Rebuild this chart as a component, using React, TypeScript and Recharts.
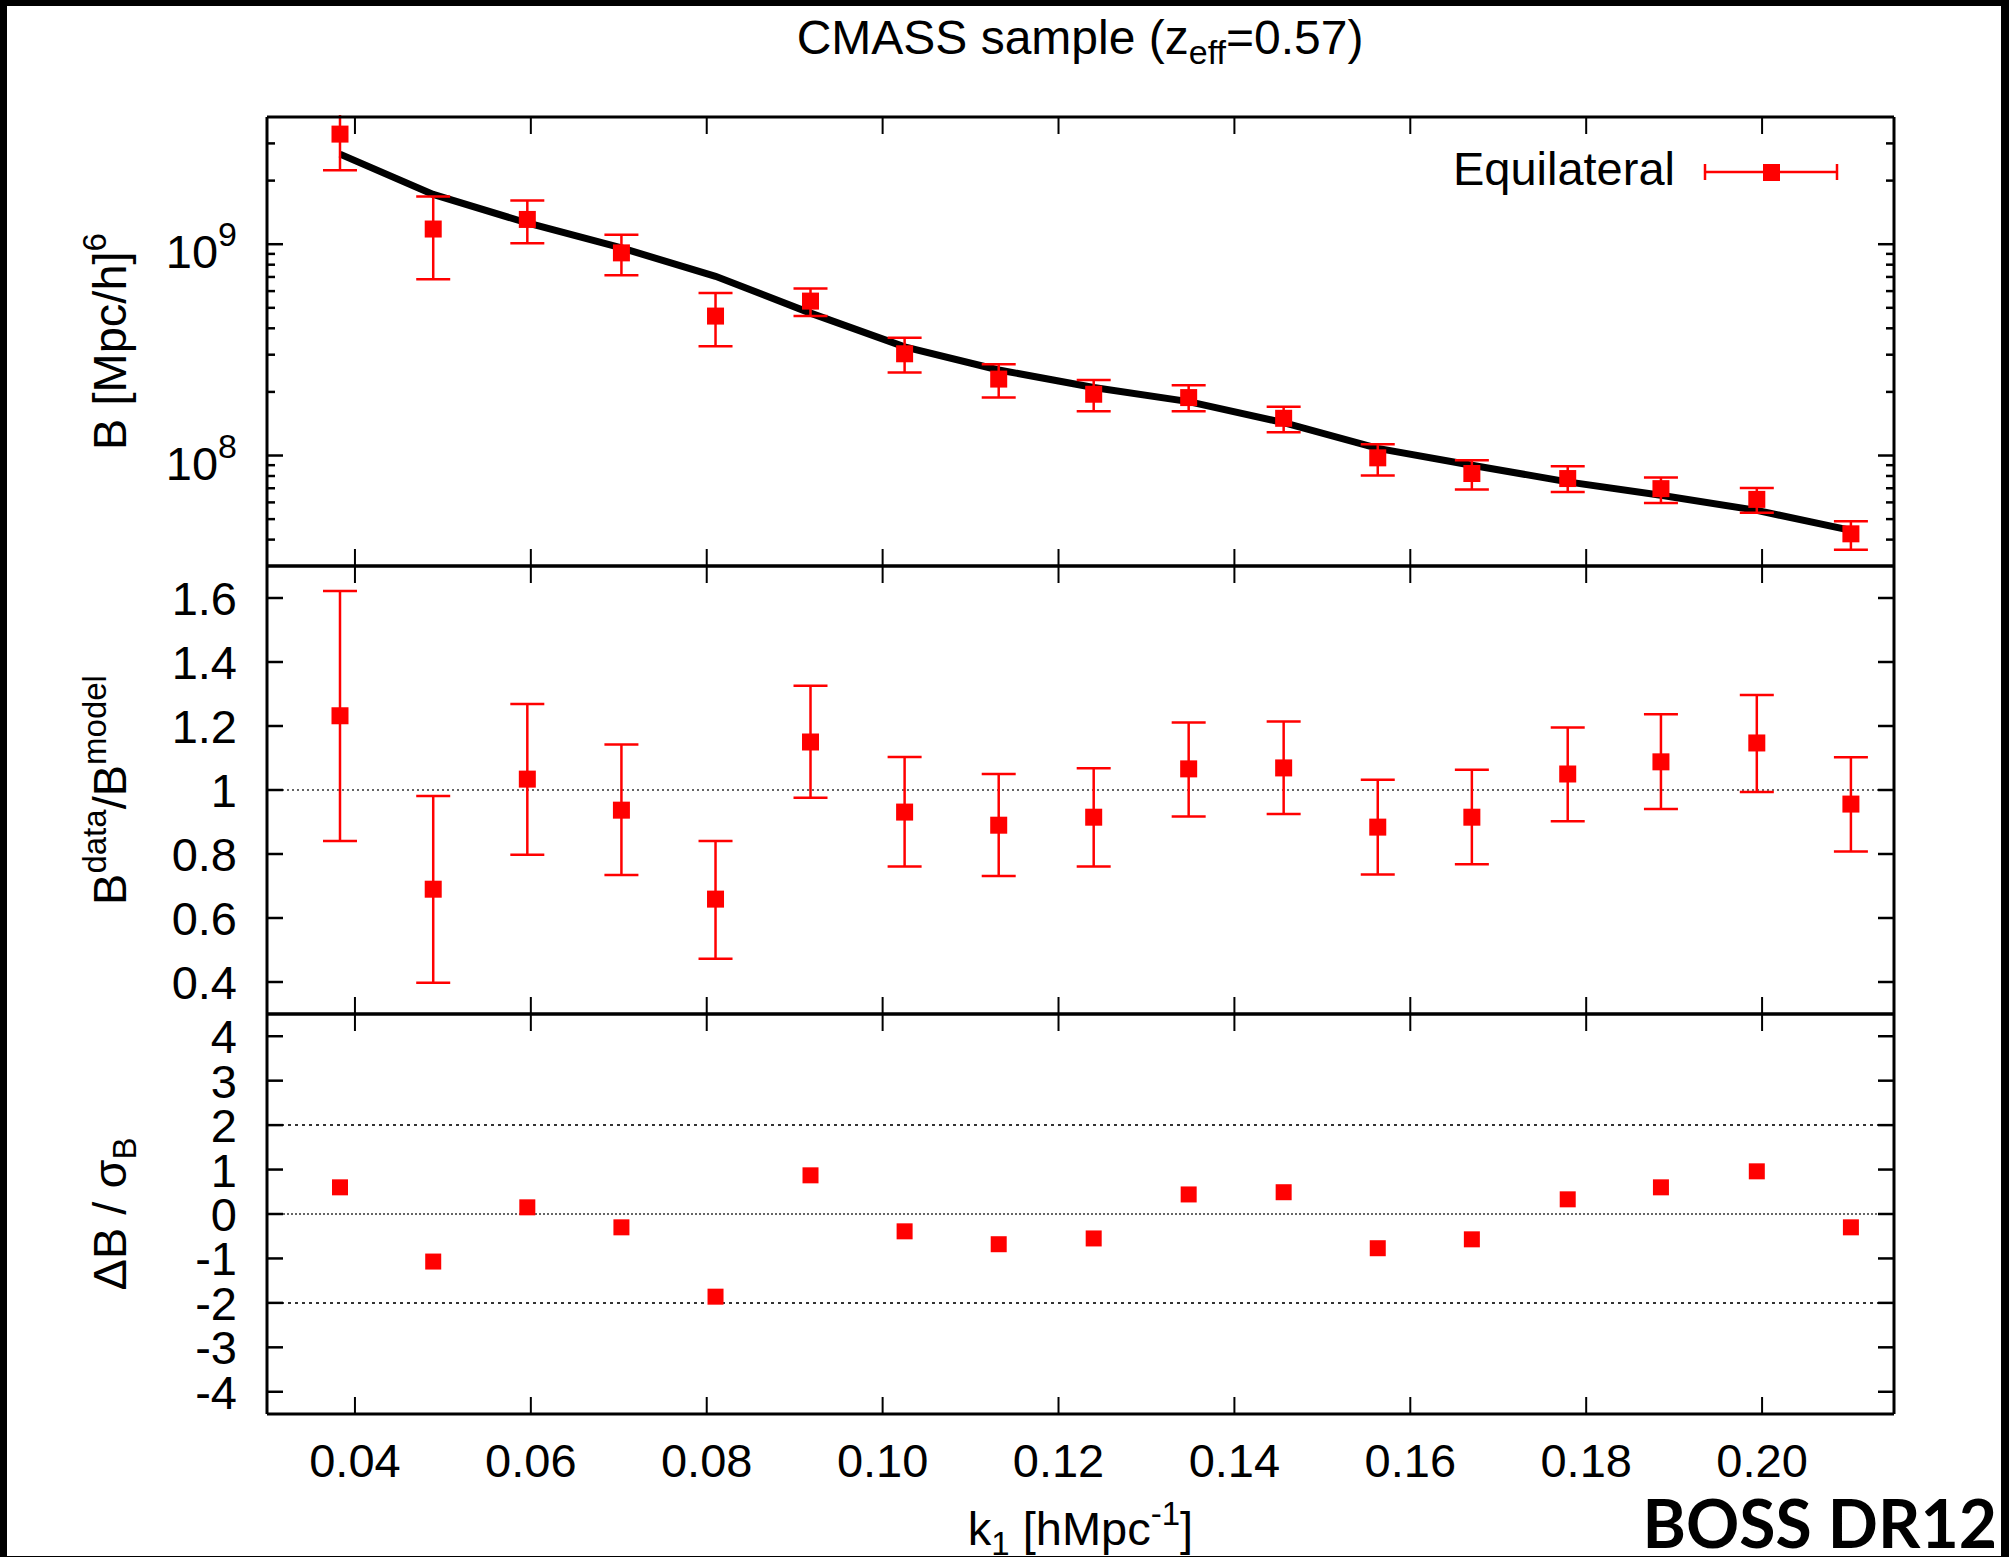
import React from "react";
import { ComposedChart, Line, XAxis, YAxis, ErrorBar, ReferenceLine, Legend } from "recharts";

// k1 bin centres [h/Mpc]
const kValues = [0.0383, 0.0489, 0.0596, 0.0703, 0.0810, 0.0918, 0.1025, 0.1132, 0.1240, 0.1348, 0.1456, 0.1563, 0.1670, 0.1779, 0.1885, 0.1994, 0.2101];

// top panel: measured bispectrum, its error range and the model
const bData = [3.32e9, 1.18e9, 1.31e9, 9.1e8, 4.57e8, 5.38e8, 3.03e8, 2.30e8, 1.95e8, 1.88e8, 1.50e8, 9.75e7, 8.22e7, 7.78e7, 6.97e7, 6.2e7, 4.26e7];
const bLow = [2.24e9, 6.82e8, 1.01e9, 7.13e8, 3.29e8, 4.57e8, 2.47e8, 1.88e8, 1.62e8, 1.62e8, 1.29e8, 8.04e7, 6.9e7, 6.72e7, 5.96e7, 5.36e7, 3.58e7];
const bHigh = [4.6e9, 1.68e9, 1.61e9, 1.11e9, 5.87e8, 6.18e8, 3.61e8, 2.70e8, 2.28e8, 2.15e8, 1.70e8, 1.13e8, 9.5e7, 8.9e7, 7.87e7, 7.02e7, 4.89e7];
const bModel = [2.67e9, 1.72e9, 1.26e9, 9.6e8, 7.05e8, 4.72e8, 3.27e8, 2.54e8, 2.10e8, 1.80e8, 1.43e8, 1.08e8, 9.0e7, 7.5e7, 6.48e7, 5.5e7, 4.42e7];

// middle panel: data / model
const ratio = [1.232, 0.690, 1.034, 0.937, 0.659, 1.150, 0.931, 0.890, 0.915, 1.066, 1.069, 0.884, 0.915, 1.050, 1.088, 1.147, 0.956];
const ratioLow = [0.841, 0.398, 0.798, 0.734, 0.473, 0.976, 0.761, 0.731, 0.761, 0.917, 0.925, 0.736, 0.768, 0.902, 0.941, 0.994, 0.808];
const ratioHigh = [1.622, 0.981, 1.269, 1.142, 0.841, 1.326, 1.103, 1.050, 1.068, 1.211, 1.214, 1.032, 1.063, 1.195, 1.237, 1.297, 1.102];

// bottom panel: (data - model) / sigma
const deviation = [0.60, -1.07, 0.15, -0.30, -1.86, 0.87, -0.39, -0.68, -0.55, 0.44, 0.49, -0.77, -0.57, 0.33, 0.60, 0.96, -0.30];

const kTicks = [0.04, 0.06, 0.08, 0.10, 0.12, 0.14, 0.16, 0.18, 0.20];
const logTicks = [4e7, 5e7, 6e7, 7e7, 8e7, 9e7, 1e8, 2e8, 3e8, 4e8, 5e8, 6e8, 7e8, 8e8, 9e8, 1e9, 2e9, 3e9];
const ratioTicks = [0.4, 0.6, 0.8, 1, 1.2, 1.4, 1.6];
const devTicks = [-4, -3, -2, -1, 0, 1, 2, 3, 4];

const bispecRows = kValues.map((k, i) => ({
  k,
  b: bData[i],
  bErr: [bData[i] - bLow[i], bHigh[i] - bData[i]],
  model: bModel[i],
}));
const ratioRows = kValues.map((k, i) => ({
  k,
  r: ratio[i],
  rErr: [ratio[i] - ratioLow[i], ratioHigh[i] - ratio[i]],
}));
const devRows = kValues.map((k, i) => ({ k, d: deviation[i] }));

const W = 2009;
const H = 1557;
const LEFT = 267;
const RIGHT = W - 1894;
const FONT = "'Liberation Sans', Arial, Helvetica, sans-serif";
const FS = 47;
const RED = "#ff0000";
const AXIS_LINE = { stroke: "#000", strokeWidth: 3 };
const TOP_CLIP = 115; // top panel is cut here so the first error bar stops at the frame

const square = (size: number) => (p: any) => {
  if (p.cx == null || p.cy == null) return <g key={`e-${p.index}`} />;
  return <rect key={`sq-${p.index}`} x={p.cx - size / 2} y={p.cy - size / 2} width={size} height={size} fill={RED} />;
};

const bottomTick = (labels: boolean) => (p: any) => (
  <g>
    <line x1={p.x} x2={p.x} y1={p.y} y2={p.y - 17} stroke="#000" strokeWidth={2} />
    {labels && (
      <text x={p.x} y={p.y + 63} textAnchor="middle" fontSize={FS} fontFamily={FONT} fill="#000">
        {Number(p.payload.value).toFixed(2)}
      </text>
    )}
  </g>
);

const topTick = (p: any) => (
  <line x1={p.x} x2={p.x} y1={p.y} y2={p.y + 17} stroke="#000" strokeWidth={2} />
);

const isPow10 = (v: number) => Math.abs(Math.log10(v) - Math.round(Math.log10(v))) < 1e-6;

const leftTick = (kind: "log" | "ratio" | "dev") => (p: any) => {
  const v = Number(p.payload.value);
  const minor = kind === "log" && !isPow10(v);
  let label: React.ReactNode = null;
  let dy = 17;
  if (kind === "log") {
    dy = 24;
    label = (
      <>
        <tspan>10</tspan>
        <tspan dy={-22} fontSize={34}>{Math.round(Math.log10(v))}</tspan>
      </>
    );
  } else if (kind === "ratio") {
    label = v === 1 ? "1" : v.toFixed(1);
  } else {
    label = String(v);
  }
  return (
    <g>
      <line x1={p.x} x2={p.x + (minor ? 8 : 16)} y1={p.y} y2={p.y} stroke="#000" strokeWidth={2.5} />
      {!minor && (
        <text x={p.x - 30} y={p.y + dy} textAnchor="end" fontSize={FS} fontFamily={FONT} fill="#000">
          {label}
        </text>
      )}
    </g>
  );
};

const rightTick = (kind: "log" | "lin") => (p: any) => {
  const v = Number(p.payload.value);
  const minor = kind === "log" && !isPow10(v);
  return <line x1={p.x} x2={p.x - (minor ? 8 : 16)} y1={p.y} y2={p.y} stroke="#000" strokeWidth={2.5} />;
};

const yTitle = (parts: React.ReactNode) => (p: any) => {
  const vb = p.viewBox || { x: 0, y: 0, width: LEFT, height: 0 };
  const bx = vb.x + 126;
  const cy = vb.y + vb.height / 2;
  return (
    <text x={bx} y={cy} transform={`rotate(-90, ${bx}, ${cy})`} textAnchor="middle" fontSize={FS} fontFamily={FONT} fill="#000">
      {parts}
    </text>
  );
};

const xTitle = (p: any) => {
  const vb = p.viewBox;
  return (
    <text x={vb.x + vb.width / 2} y={vb.y + 131} textAnchor="middle" fontSize={FS} fontFamily={FONT} fill="#000">
      <tspan>k</tspan>
      <tspan dy={10} fontSize={33}>1</tspan>
      <tspan dy={-10}> [hMpc</tspan>
      <tspan dy={-20} fontSize={33}>-1</tspan>
      <tspan dy={20}>]</tspan>
    </text>
  );
};

function kAxes(bottomHeight: number, labels: boolean) {
  return [
    <XAxis
      key="xb"
      xAxisId="b"
      dataKey="k"
      type="number"
      orientation="bottom"
      domain={[0.03, 0.215]}
      ticks={kTicks}
      interval={0}
      allowDataOverflow
      height={bottomHeight}
      tickSize={0}
      tickMargin={0}
      tickLine={false}
      axisLine={AXIS_LINE}
      tick={bottomTick(labels)}
      label={labels ? { content: xTitle } : undefined}
    />,
    <XAxis
      key="xt"
      xAxisId="t"
      dataKey="k"
      type="number"
      orientation="top"
      domain={[0.03, 0.215]}
      ticks={kTicks}
      interval={0}
      allowDataOverflow
      height={20}
      tickSize={0}
      tickMargin={0}
      tickLine={false}
      axisLine={AXIS_LINE}
      tick={topTick}
    />,
  ];
}

const legendContent = () => (
  <svg width={440} height={70}>
    <text x={235} y={45} textAnchor="end" fontSize={FS} fontFamily={FONT} fill="#000">Equilateral</text>
    <line x1={265} x2={397} y1={32} y2={32} stroke={RED} strokeWidth={2.5} />
    <line x1={265} x2={265} y1={24} y2={40} stroke={RED} strokeWidth={2.5} />
    <line x1={397} x2={397} y1={24} y2={40} stroke={RED} strokeWidth={2.5} />
    <rect x={323} y={24} width={17} height={17} fill={RED} />
  </svg>
);

const layer: React.CSSProperties = { position: "absolute", left: 0, top: 0 };

export default function App() {
  return (
    <div style={{ position: "absolute", left: 0, top: 0, width: W, height: H, background: "#000", overflow: "hidden" }}>
      <div style={{ position: "absolute", left: 7, top: 6, width: 1994, height: 1550, background: "#fff" }} />
      <svg style={layer} width={W} height={H}>
        <text x={1080} y={54} textAnchor="middle" fontSize={48} fontFamily={FONT} fill="#000">
          <tspan>CMASS sample (z</tspan>
          <tspan dy={10} fontSize={34}>eff</tspan>
          <tspan dy={-10}>=0.57)</tspan>
        </text>
      </svg>

      {/* top panel: bispectrum, log scale */}
      <div style={{ position: "absolute", left: 0, top: TOP_CLIP, width: W, height: H - TOP_CLIP, overflow: "hidden" }}>
        <div style={{ position: "absolute", left: 0, top: -TOP_CLIP }}>
          <ComposedChart width={W} height={H} data={bispecRows} margin={{ top: 97, bottom: H - 566 - 20, left: 0, right: 0 }}>
            {kAxes(20, false)}
            <YAxis
              yAxisId="l"
              orientation="left"
              width={LEFT}
              type="number"
              scale="log"
              domain={[3e7, 4e9]}
              ticks={logTicks}
              interval={0}
              allowDataOverflow
              tickSize={0}
              tickMargin={0}
              tickLine={false}
              axisLine={AXIS_LINE}
              tick={leftTick("log")}
              label={{
                content: yTitle(
                  <>
                    <tspan>B [Mpc/h]</tspan>
                    <tspan dy={-20} fontSize={33}>6</tspan>
                  </>
                ),
              }}
            />
            <YAxis
              yAxisId="r"
              orientation="right"
              width={RIGHT}
              type="number"
              scale="log"
              domain={[3e7, 4e9]}
              ticks={logTicks}
              interval={0}
              allowDataOverflow
              tickSize={0}
              tickMargin={0}
              tickLine={false}
              axisLine={AXIS_LINE}
              tick={rightTick("log")}
            />
            <Line
              xAxisId="b"
              yAxisId="l"
              dataKey="model"
              stroke="#000"
              strokeWidth={7}
              dot={false}
              activeDot={false}
              legendType="none"
              isAnimationActive={false}
            />
            <Line
              xAxisId="b"
              yAxisId="l"
              dataKey="b"
              name="Equilateral"
              stroke="none"
              strokeWidth={0}
              dot={square(17)}
              activeDot={false}
              isAnimationActive={false}
            >
              <ErrorBar dataKey="bErr" direction="y" width={17} stroke={RED} strokeWidth={2.5} />
            </Line>
            <Legend
              layout="vertical"
              align="center"
              verticalAlign="middle"
              content={legendContent}
              wrapperStyle={{ left: 1440, top: 140, width: 440, height: 70 }}
            />
          </ComposedChart>
        </div>
      </div>

      {/* middle panel: data / model */}
      <div style={layer}>
        <ComposedChart width={W} height={H} data={ratioRows} margin={{ top: 546, bottom: H - 1014 - 20, left: 0, right: 0 }}>
          {kAxes(20, false)}
          <YAxis
            yAxisId="l"
            orientation="left"
            width={LEFT}
            type="number"
            domain={[0.3, 1.7]}
            ticks={ratioTicks}
            interval={0}
            allowDataOverflow
            tickSize={0}
            tickMargin={0}
            tickLine={false}
            axisLine={AXIS_LINE}
            tick={leftTick("ratio")}
            label={{
              content: yTitle(
                <>
                  <tspan>B</tspan>
                  <tspan dy={-20} fontSize={33}>data</tspan>
                  <tspan dy={20}>/B</tspan>
                  <tspan dy={-20} fontSize={33}>model</tspan>
                </>
              ),
            }}
          />
          <YAxis
            yAxisId="r"
            orientation="right"
            width={RIGHT}
            type="number"
            domain={[0.3, 1.7]}
            ticks={ratioTicks}
            interval={0}
            allowDataOverflow
            tickSize={0}
            tickMargin={0}
            tickLine={false}
            axisLine={AXIS_LINE}
            tick={rightTick("lin")}
          />
          <ReferenceLine xAxisId="b" yAxisId="l" y={1} stroke="#333" strokeWidth={1.5} strokeDasharray="2 3" />
          <Line
            xAxisId="b"
            yAxisId="l"
            dataKey="r"
            stroke="none"
            strokeWidth={0}
            dot={square(17)}
            activeDot={false}
            isAnimationActive={false}
          >
            <ErrorBar dataKey="rErr" direction="y" width={17} stroke={RED} strokeWidth={2.5} />
          </Line>
        </ComposedChart>
      </div>

      {/* bottom panel: deviation in sigma */}
      <div style={layer}>
        <ComposedChart width={W} height={H} data={devRows} margin={{ top: 994, bottom: 0, left: 0, right: 0 }}>
          {kAxes(H - 1414, true)}
          <YAxis
            yAxisId="l"
            orientation="left"
            width={LEFT}
            type="number"
            domain={[-4.5, 4.5]}
            ticks={devTicks}
            interval={0}
            allowDataOverflow
            tickSize={0}
            tickMargin={0}
            tickLine={false}
            axisLine={AXIS_LINE}
            tick={leftTick("dev")}
            label={{
              content: yTitle(
                <>
                  <tspan>ΔB / σ</tspan>
                  <tspan dy={10} fontSize={33}>B</tspan>
                </>
              ),
            }}
          />
          <YAxis
            yAxisId="r"
            orientation="right"
            width={RIGHT}
            type="number"
            domain={[-4.5, 4.5]}
            ticks={devTicks}
            interval={0}
            allowDataOverflow
            tickSize={0}
            tickMargin={0}
            tickLine={false}
            axisLine={AXIS_LINE}
            tick={rightTick("lin")}
          />
          <ReferenceLine xAxisId="b" yAxisId="l" y={2} stroke="#333" strokeWidth={2} strokeDasharray="3 4" />
          <ReferenceLine xAxisId="b" yAxisId="l" y={0} stroke="#333" strokeWidth={1.5} strokeDasharray="2 2" />
          <ReferenceLine xAxisId="b" yAxisId="l" y={-2} stroke="#333" strokeWidth={2} strokeDasharray="3 4" />
          <Line
            xAxisId="b"
            yAxisId="l"
            dataKey="d"
            stroke="none"
            strokeWidth={0}
            dot={square(16)}
            activeDot={false}
            isAnimationActive={false}
          />
        </ComposedChart>
      </div>

      <svg style={layer} width={W} height={H}>
        <text x={1997} y={1548} textAnchor="end" fontSize={66} fontWeight={700} fontFamily="Lato, 'Liberation Sans', sans-serif" fill="#000">
          BOSS DR12
        </text>
      </svg>
    </div>
  );
}
